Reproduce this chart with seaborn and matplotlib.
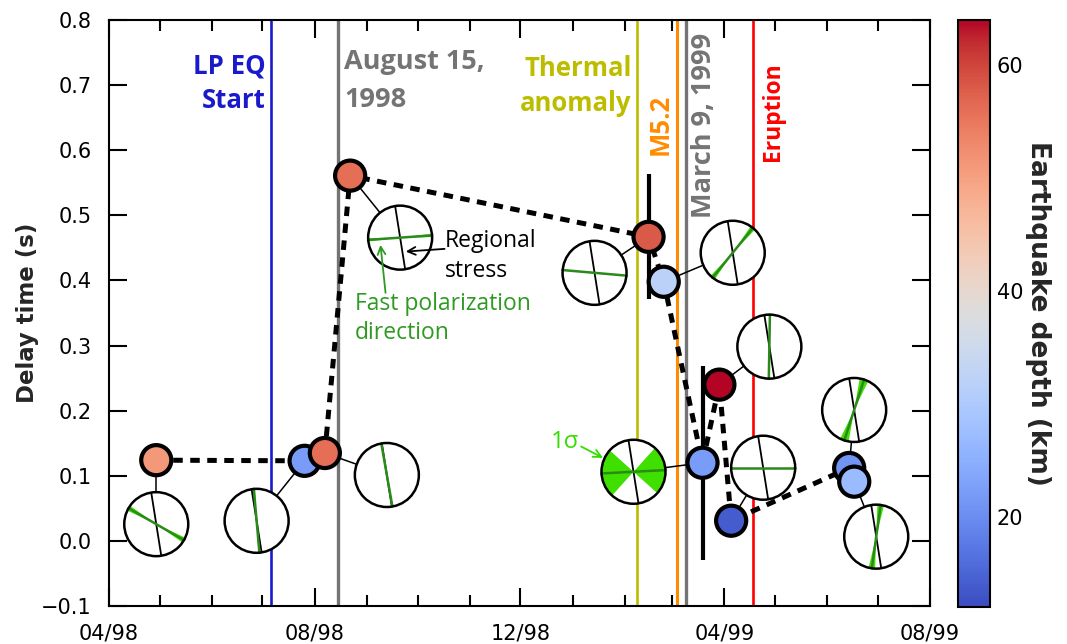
import matplotlib
matplotlib.use("Agg")
import numpy as np
import pandas as pd
import matplotlib.pyplot as plt
import matplotlib.dates as mdates
import seaborn as sns
from matplotlib.patches import Circle, Wedge
from matplotlib.transforms import Affine2D, ScaledTranslation
from matplotlib.colors import Normalize
from matplotlib.cm import ScalarMappable

# ---------------- shear-wave splitting measurements (chronological) ----------------
meas_dates = ["1998-04-29", "1998-07-26", "1998-08-07", "1998-08-22", "1999-02-15",
              "1999-02-24", "1999-03-19", "1999-03-29", "1999-04-05", "1999-06-14",
              "1999-06-17"]
delay_s = [0.124, 0.123, 0.135, 0.561, 0.467, 0.398, 0.120, 0.240, 0.031, 0.112, 0.091]
depth_km = [51, 22, 56, 56, 58, 32, 22, 64, 14, 21, 27]
# fast polarization azimuth (deg, clockwise from north) and its 1-sigma spread
fast_az = [-60, -5, -10, 86, 95, 39, 87, 1, 90, 18, 8]
fast_sigma = [5, 2, 1, 3, 0, 5, 45, 0, 0, 8, 6]
# regional maximum horizontal stress azimuth
stress_az = -9

# delay-time uncertainty for two measurements
err_index = [4, 6]
err_size = [0.096, 0.149]

# ---------------- volcanic / tectonic events ----------------
event_dates = ["1998-07-06", "1998-08-15", "1999-02-08", "1999-03-04", "1999-03-09", "1999-04-18"]
event_labels = ["LP EQ\nStart", "August 15,\n1998", "Thermal\nanomaly", "M5.2",
                "March 9, 1999", "Eruption"]

# ---------------- styling ----------------
event_style = [
    dict(color="#1a1acc", lw=1.9, ha="right", dx=-4.1, top=0.945, size=18.5, rot=0, lsp=1.36),
    dict(color="#747474", lw=2.4, ha="left", dx=4.1, top=0.951, size=19.5, rot=0, lsp=1.62),
    dict(color="#bdbd00", lw=1.9, ha="right", dx=-3.8, top=0.940, size=18.5, rot=0, lsp=1.38),
    dict(color="#ff8c00", lw=2.2, ha="right", dx=-2.9, top=0.875, size=18.5, rot=90, lsp=1.2),
    dict(color="#747474", lw=2.4, ha="left", dx=4.1, top=0.978, size=19.5, rot=90, lsp=1.2),
    dict(color="#ff0000", lw=1.9, ha="left", dx=6.0, top=0.928, size=16.5, rot=90, lsp=1.2),
]
# rose placement relative to each point (pixels, +x right, +y up)
inset_dx = [0, -48, 62, 50, -54, 69, -69, 50, 32, 5, 22]
inset_dy = [-64, -60, -22, -62, -36, 29, -9, 38, 53, 58, -55]
inset_r = 32

depth_min, depth_max = 12, 64
label_font = ["Open Sans", "DejaVu Sans"]

sns.set_theme(style="ticks")
plt.rcParams.update({
    "axes.linewidth": 1.5,
    "axes.edgecolor": "black",
    "xtick.direction": "in", "ytick.direction": "in",
    "xtick.top": True, "ytick.right": True,
    "xtick.color": "black", "ytick.color": "black",
    "xtick.labelsize": 15, "ytick.labelsize": 15,
    "axes.labelsize": 16.5,
})
plt.rcParams["font.family"] = ["DejaVu Sans"]

df = pd.DataFrame({"date": pd.to_datetime(meas_dates), "delay": delay_s, "depth": depth_km})
df["x"] = mdates.date2num(df["date"])
norm = Normalize(depth_min, depth_max)
cmap = plt.get_cmap("coolwarm")

fig = plt.figure(figsize=(10.67, 6.44), dpi=100)
ax = fig.add_axes([0.1022, 0.059, 0.7695, 0.9099])
cax = fig.add_axes([0.8978, 0.0575, 0.0300, 0.9115])
ax.set_autoscale_on(False)
ax.set_xlim(mdates.date2num(pd.Timestamp("1998-04-01")), mdates.date2num(pd.Timestamp("1999-08-01")))
ax.set_ylim(-0.1, 0.8)

# event lines and their labels
for d, lab, st in zip(event_dates, event_labels, event_style):
    xd = mdates.date2num(pd.Timestamp(d))
    ax.axvline(xd, color=st["color"], lw=st["lw"], zorder=1)
    ax.annotate(lab, xy=(xd, st["top"]), xycoords=("data", "axes fraction"),
                xytext=(st["dx"], 0), textcoords="offset points",
                ha=st["ha"], va="top", rotation=st["rot"], color=st["color"],
                fontsize=st["size"], fontweight="bold", family=label_font,
                multialignment=st["ha"] if st["rot"] == 0 else "center",
                linespacing=st["lsp"], zorder=2)


def rose_transform(x, y, dx, dy, r):
    """Unit-circle coordinates -> display, centred (dx, dy) pixels away from a data point."""
    return (Affine2D().scale(r / 100).translate(dx / 100, dy / 100)
            + fig.dpi_scale_trans
            + ScaledTranslation(x, y, ax.transData))


def diameter(az):
    t = np.deg2rad(90 - az)
    return [np.cos(t), -np.cos(t)], [np.sin(t), -np.sin(t)]


for i, row in df.iterrows():
    dx, dy, r = inset_dx[i], inset_dy[i], inset_r
    tr = rose_transform(row["x"], row["delay"], dx, dy, r)
    # tie line from the point to its rose
    ax.plot([-dx / r, 0], [-dy / r, 0], color="black", lw=1.1, transform=tr,
            clip_on=False, zorder=2)
    ax.add_patch(Circle((0, 0), 1, facecolor="white", edgecolor="none", transform=tr, zorder=3))
    s = fast_sigma[i]
    if s > 0:
        th = 90 - fast_az[i]
        for base in (th, th + 180):
            ax.add_patch(Wedge((0, 0), 1, base - s, base + s, facecolor="#3fe000",
                               edgecolor="none", transform=tr, zorder=3.1))
    bx, by = diameter(stress_az)
    ax.plot(bx, by, color="black", lw=1.3, transform=tr, clip_on=False, zorder=3.2)
    gx, gy = diameter(fast_az[i])
    ax.plot(gx, gy, color="#2a8a1a", lw=1.8, transform=tr, clip_on=False, zorder=3.3)
    ax.add_patch(Circle((0, 0), 1, facecolor="none", edgecolor="black", lw=1.8,
                        transform=tr, zorder=3.4))

# connecting dashed line and error bars
sns.lineplot(data=df, x="x", y="delay", color="black", lw=3.6, ax=ax, zorder=4,
             estimator=None, sort=False)
ax.lines[-1].set_linestyle((0, (1.9, 1.5)))
ax.errorbar(df["x"].iloc[err_index], df["delay"].iloc[err_index], yerr=err_size,
            fmt="none", ecolor="black", elinewidth=3, capsize=0, zorder=5)

# measurements coloured by hypocentre depth
sns.scatterplot(data=df, x="x", y="delay", hue="depth", palette="coolwarm", hue_norm=norm,
                s=470, edgecolor="black", linewidth=3, legend=False, ax=ax, zorder=6)

# explanatory annotations
ann_font = ["Open Sans", "DejaVu Sans"]
ax.text(mdates.date2num(pd.Timestamp("1998-10-17")), 0.479, "Regional\nstress",
        ha="left", va="top", fontsize=16.5, family=ann_font, color="black",
        linespacing=1.35, zorder=7)
ax.annotate("", xy=(mdates.date2num(pd.Timestamp("1998-09-24")), 0.4444),
            xytext=(mdates.date2num(pd.Timestamp("1998-10-17")), 0.4485),
            arrowprops=dict(arrowstyle="->", color="black", lw=1.3, mutation_scale=14,
                            shrinkA=0, shrinkB=0), zorder=7)
ax.text(mdates.date2num(pd.Timestamp("1998-08-25")), 0.3825, "Fast polarization\ndirection",
        ha="left", va="top", fontsize=16.5, family=ann_font, color="#2e9a22",
        linespacing=1.29, zorder=7)
ax.annotate("", xy=(mdates.date2num(pd.Timestamp("1998-09-09")), 0.4547),
            xytext=(mdates.date2num(pd.Timestamp("1998-09-12")), 0.381),
            arrowprops=dict(arrowstyle="->", color="#2e9a22", lw=1.3, mutation_scale=14,
                            shrinkA=0, shrinkB=0), zorder=7)
ax.text(mdates.date2num(pd.Timestamp("1998-12-19")), 0.170, "1σ",
        ha="left", va="top", fontsize=17, family=ann_font, color="#33dd00", zorder=7)
ax.annotate("", xy=(mdates.date2num(pd.Timestamp("1999-01-19")), 0.1275),
            xytext=(mdates.date2num(pd.Timestamp("1999-01-06")), 0.145),
            arrowprops=dict(arrowstyle="->", color="#33dd00", lw=1.3, mutation_scale=14,
                            shrinkA=0, shrinkB=0), zorder=7)

# axes formatting
ax.xaxis.set_major_locator(mdates.MonthLocator(bymonth=[4, 8, 12]))
ax.xaxis.set_minor_locator(mdates.MonthLocator())
ax.xaxis.set_major_formatter(mdates.DateFormatter("%m/%y"))
ax.yaxis.set_major_locator(matplotlib.ticker.MultipleLocator(0.1))
ax.tick_params(axis="y", which="major", length=12.7, width=1.5, pad=12.5)
ax.tick_params(axis="x", which="major", length=12.7, width=1.5, pad=12.5)
ax.tick_params(which="minor", length=8, width=1.5)
ax.set_xlabel("")
ax.set_ylabel("Delay time (s)", fontweight="bold", fontsize=16.5)
ax.yaxis.set_label_coords(-0.085, 0.5)
for sp in ax.spines.values():
    sp.set_visible(True)
    sp.set_linewidth(1.5)

# depth colour bar
cb = fig.colorbar(ScalarMappable(norm=norm, cmap=cmap), cax=cax)
cb.set_ticks([20, 40, 60])
cb.outline.set_linewidth(1.5)
cax.tick_params(direction="in", length=10, width=1.5, labelsize=15, pad=5)
cb.set_label("Earthquake depth (km)", rotation=270, fontweight="bold", fontsize=19,
             labelpad=20)

fig.savefig("out.png", dpi=100)
